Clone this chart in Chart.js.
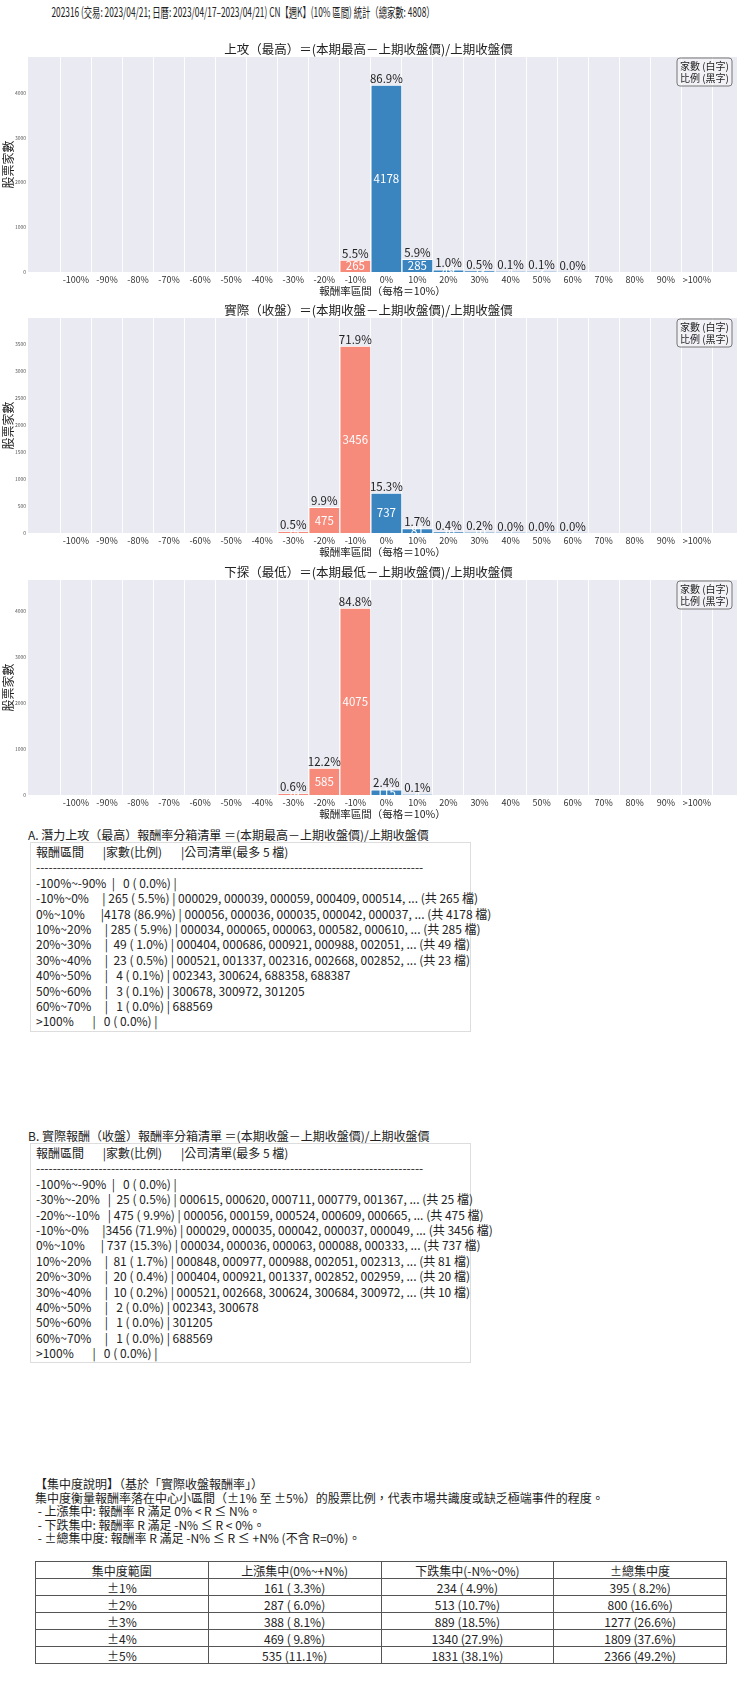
<!DOCTYPE html>
<html>
<head>
<meta charset="utf-8">
<script src="https://cdn.jsdelivr.net/npm/chart.js@4.4.0/dist/chart.umd.min.js"></script>
<style>
  body { margin: 0; width: 740px; height: 1690px; background: #fff; position: relative; overflow: hidden;
         font-family: "Noto Sans CJK TC", "Noto Sans", sans-serif; color: #222; }
  .cv { position: absolute; left: 0; }
  #mainTitle { position: absolute; left: 243px; top: 3px; font-size: 13px; line-height: 18px; white-space: nowrap;
               transform: translateX(-50%) scaleX(0.64); }
  .head { position: absolute; left: 28px; font-size: 12px; line-height: 16px; white-space: pre; }
  .box { position: absolute; left: 30px; width: 441px; border: 1px solid #ddd; box-sizing: border-box;
         padding: 1px 5px; font-size: 12px; line-height: 15.4px; white-space: pre; }
  #conc { position: absolute; left: 35px; top: 1477px; font-size: 12px; line-height: 13.6px; white-space: pre; }
  #concTable { position: absolute; left: 35px; top: 1561px; width: 692px; border-collapse: collapse; font-size: 12px; }
  #concTable td { border: 1px solid #555; text-align: center; height: 16px; padding: 0; line-height: 15px; width: 25%; white-space: pre; }
</style>
</head>
<body>
<div id="mainTitle">202316 (交易: 2023/04/21; 日曆: 2023/04/17–2023/04/21) CN【週K】(10% 區間) 統計（總家數: 4808）</div>
<canvas id="c1" class="cv" width="740" height="261" style="top:39px"></canvas>
<canvas id="c2" class="cv" width="740" height="261" style="top:300px"></canvas>
<canvas id="c3" class="cv" width="740" height="261" style="top:562px"></canvas>

<div class="head" style="top:827px">A. 潛力上攻（最高）報酬率分箱清單 ＝(本期最高－上期收盤價)/上期收盤價</div>
<div id="boxA" class="box" style="top:842px;height:190px"></div>
<div class="head" style="top:1128px">B. 實際報酬（收盤）報酬率分箱清單 ＝(本期收盤－上期收盤價)/上期收盤價</div>
<div id="boxB" class="box" style="top:1143px;height:220px"></div>

<div id="conc">【集中度說明】（基於「實際收盤報酬率」）
集中度衡量報酬率落在中心小區間（±1% 至 ±5%）的股票比例，代表市場共識度或缺乏極端事件的程度。
 - 上漲集中: 報酬率 R 滿足 0% < R ≤ N%。
 - 下跌集中: 報酬率 R 滿足 -N% ≤ R < 0%。
 - ±總集中度: 報酬率 R 滿足 -N% ≤ R ≤ +N% (不含 R=0%)。</div>
<table id="concTable"></table>

<script>
  const TOTAL = 4808;

  // 分箱標籤（每格 10%）
  const xLabels = ['-100%', '-90%', '-80%', '-70%', '-60%', '-50%', '-40%', '-30%', '-20%', '-10%',
    '0%', '10%', '20%', '30%', '40%', '50%', '60%', '70%', '80%', '90%', '>100%'];

  // 各分箱家數
  const highCounts  = [0, 0, 0, 0, 0, 0, 0, 0, 0, 265, 4178, 285, 49, 23, 4, 3, 1, 0, 0, 0, 0];
  const closeCounts = [0, 0, 0, 0, 0, 0, 0, 25, 475, 3456, 737, 81, 20, 10, 2, 1, 1, 0, 0, 0, 0];
  const lowCounts   = [0, 0, 0, 0, 0, 0, 0, 29, 585, 4075, 115, 4, 0, 0, 0, 0, 0, 0, 0, 0, 0];

  // 公司清單（最多 5 檔）
  const highLists = {
    9: '000029, 000039, 000059, 000409, 000514, ... (共 265 檔)',
    10: '000056, 000036, 000035, 000042, 000037, ... (共 4178 檔)',
    11: '000034, 000065, 000063, 000582, 000610, ... (共 285 檔)',
    12: '000404, 000686, 000921, 000988, 002051, ... (共 49 檔)',
    13: '000521, 001337, 002316, 002668, 002852, ... (共 23 檔)',
    14: '002343, 300624, 688358, 688387',
    15: '300678, 300972, 301205',
    16: '688569'
  };
  const closeLists = {
    7: '000615, 000620, 000711, 000779, 001367, ... (共 25 檔)',
    8: '000056, 000159, 000524, 000609, 000665, ... (共 475 檔)',
    9: '000029, 000035, 000042, 000037, 000049, ... (共 3456 檔)',
    10: '000034, 000036, 000063, 000088, 000333, ... (共 737 檔)',
    11: '000848, 000977, 000988, 002051, 002313, ... (共 81 檔)',
    12: '000404, 000921, 001337, 002852, 002959, ... (共 20 檔)',
    13: '000521, 002668, 300624, 300684, 300972, ... (共 10 檔)',
    14: '002343, 300678',
    15: '301205',
    16: '688569'
  };

  // 集中度表
  const concRanges = ['±1%', '±2%', '±3%', '±4%', '±5%'];
  const concUp    = [161, 287, 388, 469, 535];
  const concDown  = [234, 513, 889, 1340, 1831];
  const concTotal = [395, 800, 1277, 1809, 2366];

  const SALMON = '#f68a7b';
  const BLUE = '#3a84c0';
  const FONT = '"Noto Sans CJK TC", "Noto Sans", sans-serif';
  Chart.defaults.font.family = FONT;

  const pctText = c => (c / TOTAL * 100).toFixed(1);

  // 繪圖區底色
  const plotBg = {
    id: 'plotBg',
    beforeDraw(chart) {
      const { ctx, chartArea: a } = chart;
      ctx.save();
      ctx.fillStyle = '#eaeaf2';
      ctx.fillRect(a.left, a.top, a.right - a.left, a.bottom - a.top);
      ctx.restore();
    }
  };

  // 柱上比例（黑字）與柱內家數（白字）
  const barLabels = {
    id: 'barLabels',
    afterDatasetsDraw(chart) {
      const { ctx } = chart;
      const meta = chart.getDatasetMeta(0);
      const pts = chart.data.datasets[0].data;
      ctx.save();
      ctx.textAlign = 'center';
      ctx.font = '11.5px ' + FONT;
      meta.data.forEach((bar, i) => {
        const c = pts[i].y;
        if (!c) return;
        ctx.fillStyle = '#fff';
        ctx.textBaseline = 'middle';
        ctx.fillText(String(c), bar.x, (bar.y + bar.base) / 2);
        ctx.fillStyle = '#222';
        ctx.textBaseline = 'bottom';
        ctx.fillText(pctText(c) + '%', bar.x, bar.y - 1);
      });
      ctx.restore();
    }
  };

  // 右上角說明框
  const noteBox = {
    id: 'noteBox',
    afterDraw(chart) {
      const { ctx, chartArea: a } = chart;
      const w = 55, h = 28, x = a.right - 5 - w, y = a.top + 1;
      ctx.save();
      ctx.beginPath();
      ctx.roundRect(x, y, w, h, 3);
      ctx.fillStyle = 'rgba(255,255,255,0.35)';
      ctx.fill();
      ctx.strokeStyle = '#777';
      ctx.lineWidth = 1;
      ctx.stroke();
      ctx.fillStyle = '#222';
      ctx.font = '10px ' + FONT;
      ctx.textAlign = 'center';
      ctx.textBaseline = 'middle';
      ctx.fillText('家數 (白字)', x + w / 2, y + 8);
      ctx.fillText('比例 (黑字)', x + w / 2, y + 20);
      ctx.restore();
    }
  };

  function makeChart(id, counts, titleText, yStep) {
    const ymax = Math.max(...counts) * 1.15;
    new Chart(document.getElementById(id), {
      type: 'bar',
      data: {
        datasets: [{
          data: counts.map((c, i) => ({ x: i, y: c })),
          backgroundColor: counts.map((c, i) => i < 10 ? SALMON : BLUE),
          borderColor: '#fff',
          borderWidth: 1,
          barPercentage: 1,
          categoryPercentage: 1
        }]
      },
      options: {
        responsive: false,
        animation: false,
        layout: { padding: { left: 0, right: 3, top: 0, bottom: 0 } },
        plugins: {
          legend: { display: false },
          tooltip: { enabled: false },
          title: {
            display: true, text: titleText, color: '#222',
            font: { size: 12.5, weight: 'normal' }, padding: { top: 3, bottom: 0 }
          }
        },
        scales: {
          x: {
            type: 'linear', min: -1, max: 20.75,
            afterBuildTicks: axis => { axis.ticks = xLabels.map((_, i) => ({ value: i })); },
            afterFit: axis => { axis.height = 28; },
            ticks: { callback: (v, i) => xLabels[i], font: { size: 9 }, color: '#333', padding: 2, maxRotation: 0, autoSkip: false },
            grid: { color: 'rgba(255,255,255,0.9)', drawTicks: false },
            border: { display: false },
            title: { display: true, text: '報酬率區間（每格＝10%）', color: '#222', font: { size: 10.5 }, padding: { top: 0, bottom: 3 } }
          },
          y: {
            min: 0, max: ymax,
            afterBuildTicks: axis => {
              const t = [];
              for (let v = 0; v <= ymax; v += yStep) t.push({ value: v });
              axis.ticks = t;
            },
            afterFit: axis => { axis.width = 28; },
            ticks: { callback: v => String(v), font: { size: 5 }, color: '#555', padding: 2, autoSkip: false },
            grid: { display: false, drawTicks: false },
            border: { display: false },
            title: { display: true, text: '股票家數', color: '#222', font: { size: 12 }, padding: { top: 1, bottom: 0 } }
          }
        }
      },
      plugins: [plotBg, barLabels, noteBox]
    });
  }

  makeChart('c1', highCounts, '上攻（最高）＝(本期最高－上期收盤價)/上期收盤價', 1000);
  makeChart('c2', closeCounts, '實際（收盤）＝(本期收盤－上期收盤價)/上期收盤價', 500);
  makeChart('c3', lowCounts, '下探（最低）＝(本期最低－上期收盤價)/上期收盤價', 1000);

  // 分箱清單文字
  function rangeLabel(i) {
    if (i === 20) return '>100%';
    return `${(i - 10) * 10}%~${(i - 9) * 10}%`;
  }
  function buildList(counts, lists) {
    const lines = ['報酬區間       |家數(比例)       |公司清單(最多 5 檔)', '-'.repeat(93)];
    counts.forEach((c, i) => {
      if (c === 0 && i !== 0 && i !== 20) return;
      const row = rangeLabel(i).padEnd(12) + '|' + String(c).padStart(4) + ' (' + pctText(c).padStart(4) + '%) |' +
        (lists[i] ? ' ' + lists[i] : '');
      lines.push(row);
    });
    return lines.join('\n');
  }
  document.getElementById('boxA').textContent = buildList(highCounts, highLists);
  document.getElementById('boxB').textContent = buildList(closeCounts, closeLists);

  // 集中度表格
  const fmt = c => c + ' (' + pctText(c).padStart(4) + '%)';
  let html = '<tr><td>集中度範圍</td><td>上漲集中(0%~+N%)</td><td>下跌集中(-N%~0%)</td><td>±總集中度</td></tr>';
  concRanges.forEach((r, i) => {
    html += `<tr><td>${r}</td><td>${fmt(concUp[i])}</td><td>${fmt(concDown[i])}</td><td>${fmt(concTotal[i])}</td></tr>`;
  });
  document.getElementById('concTable').innerHTML = html;
</script>
</body>
</html>
